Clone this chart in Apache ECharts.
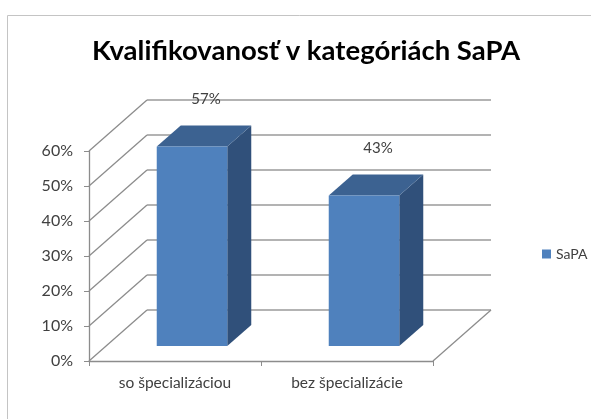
<!DOCTYPE html>
<html>
<head>
<meta charset="utf-8">
<script src="https://cdn.jsdelivr.net/npm/echarts@6/dist/echarts.min.js"></script>
<style>
  html, body { margin: 0; padding: 0; background: #fff; }
  #chart { width: 591px; height: 419px; }
</style>
</head>
<body>
<div id="chart"></div>
<script>
const categories = ['so špecializáciou', 'bez špecializácie'];
const values = [57, 43];
const yTicks = [0, 10, 20, 30, 40, 50, 60];

// 3D look: depth of the walls and of the bars, in pixels
const WALL_DX = 58, WALL_DY = -51;
const FACE_DX = 17, FACE_DY = -15;
const BAR_DX = 24, BAR_DY = -21;

const chart = echarts.init(document.getElementById('chart'));

function renderWall(params, api) {
  const cs = params.coordSys;
  const v = api.value(1);
  const y = api.coord([0, v])[1];
  const x0 = cs.x, x1 = cs.x + cs.width;
  const lineStyle = { stroke: '#8c8c8c', lineWidth: 1.3 };
  const children = [
    { type: 'line', shape: { x1: x0, y1: y, x2: x0 + WALL_DX, y2: y + WALL_DY }, style: lineStyle },
    { type: 'line', shape: { x1: x0 + WALL_DX, y1: y + WALL_DY, x2: x1 + WALL_DX, y2: y + WALL_DY }, style: { stroke: '#9a9a9a', lineWidth: 1.6 } }
  ];
  if (v === 0) {
    children.push({ type: 'line', shape: { x1: x1, y1: y, x2: x1 + WALL_DX, y2: y + WALL_DY }, style: lineStyle });
  }
  return { type: 'group', children: children };
}

function renderBar(params, api) {
  const idx = api.value(0);
  const top = api.coord([idx, api.value(1)]);
  const base = api.coord([idx, 0]);
  const w = api.size([1, 0])[0] * 0.41;
  const l = top[0] - w / 2 + FACE_DX, r = top[0] + w / 2 + FACE_DX;
  const t = top[1] + FACE_DY, b = base[1] + FACE_DY;
  return {
    type: 'group',
    children: [
      { type: 'polygon', shape: { points: [[r, t], [r + BAR_DX, t + BAR_DY], [r + BAR_DX, b + BAR_DY], [r, b]] }, style: { fill: '#30507a' } },
      { type: 'polygon', shape: { points: [[l, t], [r, t], [r + BAR_DX, t + BAR_DY], [l + BAR_DX, t + BAR_DY]] }, style: { fill: '#3c6291' } },
      { type: 'rect', shape: { x: l, y: t, width: r - l, height: b - t }, style: { fill: '#4f81bd' } },
      { type: 'text', x: (l + r) / 2 + 14, y: t - 47, style: { text: api.value(1) + '%', fill: '#404040', font: '15px Lato', align: 'center', verticalAlign: 'middle' } }
    ]
  };
}

chart.setOption({
  animation: false,
  title: {
    text: 'Kvalifikovanosť v kategóriách SaPA',
    left: 87,
    top: 32,
    textStyle: { fontFamily: 'Lato', fontWeight: 'bold', fontSize: 27.5, color: '#000' }
  },
  legend: {
    data: ['SaPA'],
    left: 537,
    top: 242,
    icon: 'rect',
    itemWidth: 9,
    itemHeight: 9,
    itemGap: 4,
    textStyle: { fontFamily: 'Lato', fontSize: 14, color: '#404040' }
  },
  graphic: [
    { type: 'rect', shape: { x: 7.5, y: 15.5, width: 600, height: 420 }, style: { fill: 'none', stroke: '#c4c4c4', lineWidth: 1 } }
  ],
  grid: { left: 89, right: 158, top: 151, bottom: 58 },
  xAxis: {
    type: 'category',
    data: categories,
    axisLine: { lineStyle: { color: '#8c8c8c', width: 1.3 } },
    axisTick: { show: true, length: 5, lineStyle: { color: '#8c8c8c' } },
    axisLabel: { fontFamily: 'Lato', fontSize: 15.5, color: '#404040', margin: 14 }
  },
  yAxis: {
    type: 'value',
    min: 0,
    max: 60,
    interval: 10,
    axisLine: { show: true, lineStyle: { color: '#8c8c8c', width: 1.3 } },
    axisTick: { show: true, length: 5, lineStyle: { color: '#8c8c8c' } },
    splitLine: { show: false },
    axisLabel: { fontFamily: 'Lato', fontSize: 16, color: '#404040', margin: 16, formatter: '{value}%' }
  },
  series: [
    {
      type: 'custom',
      name: 'walls',
      z: 1,
      clip: false,
      silent: true,
      renderItem: renderWall,
      encode: { x: 0, y: 1 },
      data: yTicks.map(v => [0, v])
    },
    {
      type: 'custom',
      name: 'SaPA',
      z: 3,
      clip: false,
      itemStyle: { color: '#4f81bd' },
      renderItem: renderBar,
      encode: { x: 0, y: 1 },
      data: values.map((v, i) => [i, v])
    }
  ]
});
</script>
</body>
</html>
